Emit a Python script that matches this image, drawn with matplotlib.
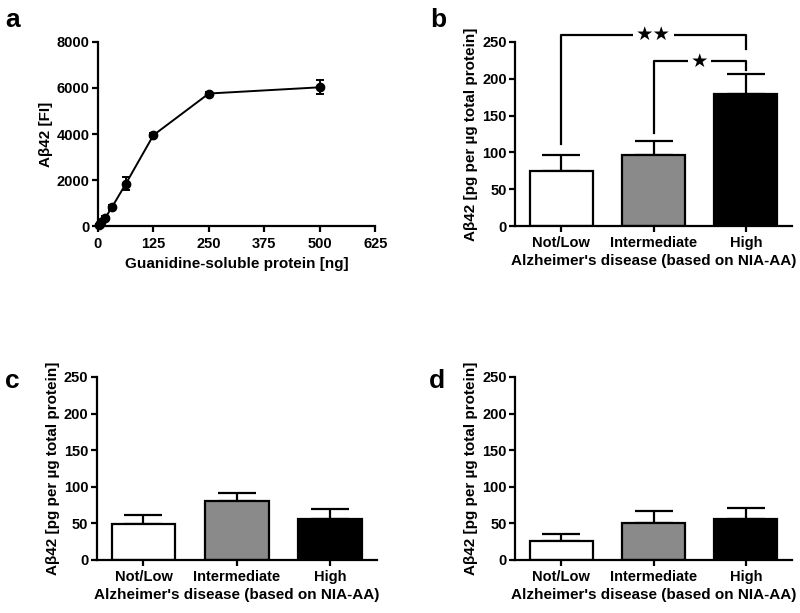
import matplotlib.pyplot as plt
import numpy as np

plt.rcParams['font.family'] = ['Liberation Sans', 'DejaVu Sans']
plt.rcParams['font.weight'] = 'bold'
plt.rcParams['axes.labelweight'] = 'bold'

# panel a: standard curve
protein_ng = [1.95, 3.9, 7.8, 15.6, 31.25, 62.5, 125, 250, 500]
signal_fi = [40, 90, 180, 330, 810, 1830, 3950, 5760, 6030]
signal_err = [30, 40, 60, 110, 110, 280, 90, 80, 300]

# panels b-d: Abeta42 by AD level
groups = ["Not/Low", "Intermediate", "High"]
colors = ["white", "#8a8a8a", "black"]
b_mean = [75, 96, 180]
b_sem = [22, 19, 27]
c_mean = [49, 81, 56]
c_sem = [13, 11, 14]
d_mean = [26, 51, 56]
d_sem = [10, 16, 15]

fig = plt.figure(figsize=(8, 6.13), dpi=100)

LW = 1.6


def style(ax):
    for s in ["top", "right"]:
        ax.spines[s].set_visible(False)
    for s in ["left", "bottom"]:
        ax.spines[s].set_linewidth(LW)
    ax.tick_params(width=LW, length=4, labelsize=10.5, pad=2)
    for lab in ax.get_xticklabels() + ax.get_yticklabels():
        lab.set_fontweight("bold")


# a
ax = fig.add_axes([0.1225, 0.6313, 0.3465, 0.3002])
ax.errorbar(protein_ng, signal_fi, yerr=signal_err, color="black", marker="o",
            markersize=6, linewidth=1.4, capsize=3, elinewidth=1.4, capthick=1.4,
            clip_on=False)
ax.set_xlim(0, 625)
ax.set_ylim(0, 8000)
ax.set_xticks(np.arange(0, 626, 125))
ax.set_yticks(np.arange(0, 8001, 2000))
ax.set_xlabel("Guanidine-soluble protein [ng]", fontsize=11, labelpad=4)
ax.set_ylabel("Aβ42 [FI]", fontsize=11, labelpad=3)
style(ax)
ax.tick_params(axis="x", pad=4)


def bars(rect, means, sems):
    ax = fig.add_axes(rect)
    x = np.arange(len(groups))
    ax.bar(x, means, width=0.68, color=colors, edgecolor="black", linewidth=LW, zorder=2)
    ax.errorbar(x, means, yerr=[np.zeros(len(sems)), sems], fmt="none", ecolor="black",
                elinewidth=LW, capsize=14, capthick=LW, zorder=1)
    ax.set_xlim(-0.5, 2.5)
    ax.set_ylim(0, 250)
    ax.set_yticks(np.arange(0, 251, 50))
    ax.set_xticks(x)
    ax.set_xticklabels(groups)
    ax.set_xlabel("Alzheimer's disease (based on NIA-AA)", fontsize=11, labelpad=3)
    ax.set_ylabel("Aβ42 [pg per µg total protein]", fontsize=11, labelpad=3)
    style(ax)
    ax.tick_params(axis="x", length=4, pad=3)
    return ax


axb = bars([0.644, 0.6313, 0.346, 0.3002], b_mean, b_sem)


def bracket(ax, x1, x2, y1, ytop, y2, label):
    ax.plot([x1, x1, x2, x2], [y1, ytop, ytop, y2], color="black", linewidth=LW,
            clip_on=False)
    ax.text((x1 + x2) / 2, ytop, label, ha="center", va="center", fontsize=14,
            family="DejaVu Sans", clip_on=False,
            bbox=dict(facecolor="white", edgecolor="none", pad=2))


bracket(axb, 0, 2, 112, 260, 241, "★★")
bracket(axb, 1, 2, 126, 224, 212, "★")

bars([0.121, 0.0865, 0.350, 0.2985], c_mean, c_sem)
bars([0.644, 0.0865, 0.346, 0.2985], d_mean, d_sem)

for letter, x, y in [("a", 0.006, 0.968), ("b", 0.538, 0.968),
                     ("c", 0.006, 0.378), ("d", 0.536, 0.378)]:
    fig.text(x, y, letter, fontsize=19, fontweight="bold", va="center")

fig.savefig("out.png", dpi=100)
